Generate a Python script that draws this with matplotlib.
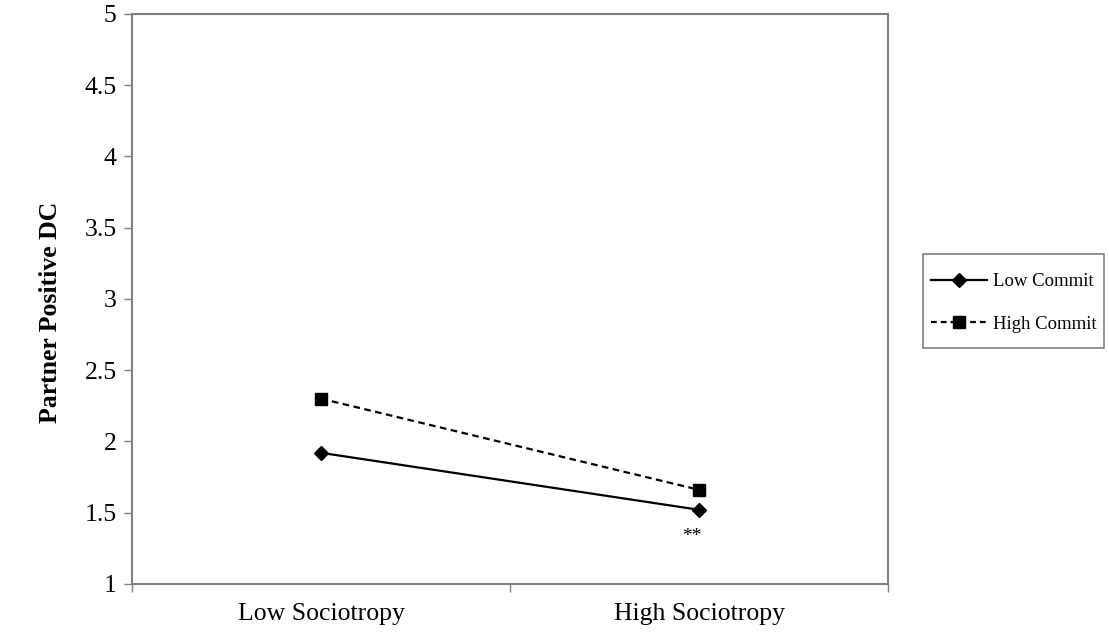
import matplotlib.pyplot as plt
from matplotlib.lines import Line2D
from matplotlib.patches import Rectangle

plt.rcParams['font.family'] = ['Liberation Serif', 'DejaVu Serif']

categories = ['Low Sociotropy', 'High Sociotropy']
low_commit = [1.92, 1.52]
high_commit = [2.30, 1.66]
series_names = ['Low Commit', 'High Commit']
y_ticks = [1, 1.5, 2, 2.5, 3, 3.5, 4, 4.5, 5]
y_tick_labels = ['1', '1.5', '2', '2.5', '3', '3.5', '4', '4.5', '5']

fig = plt.figure(figsize=(11.09, 6.34), dpi=100, facecolor='white')
ax = fig.add_axes([0.119, 0.079, 0.682, 0.899])

x = list(range(len(categories)))
ax.plot(x, low_commit, '-', color='black', linewidth=1.6, marker='D', markersize=7)
ax.plot(x, high_commit, '--', color='black', linewidth=1.6, marker='s', markersize=8.5,
        dashes=(3, 2))

ax.text(x[1] - 0.02, low_commit[1] - 0.13, '**', ha='center', va='top', fontsize=14)

ax.set_xlim(-0.5, 1.5)
ax.set_ylim(1, 5)
ax.set_yticks(y_ticks)
ax.set_yticklabels(y_tick_labels, fontsize=18.5)
ax.set_xticks([-0.5, 0.5, 1.5])
ax.set_xticklabels([])
ax.set_xticks(x, minor=True)
ax.set_xticklabels(categories, minor=True, fontsize=18.5)
ax.tick_params(axis='x', which='minor', length=0, pad=14)
ax.tick_params(axis='x', which='major', length=6, color='#808080', width=1)
ax.tick_params(axis='y', length=6, color='#808080', width=1, pad=5)

for s in ax.spines.values():
    s.set_color('#808080')
    s.set_linewidth(1.5)

ax.set_ylabel('Partner Positive DC', fontsize=18.5, fontweight='bold')
ax.yaxis.set_label_coords(-0.092, 0.477)

# legend box drawn separately so it can have the roomy vertical padding of the original
fig.patches.append(Rectangle((0.8323, 0.4511), 0.1632, 0.1483, transform=fig.transFigure,
                             facecolor='white', edgecolor='#808080', linewidth=1.2))

handles = [
    Line2D([], [], color='black', linestyle='-', marker='D', markersize=7, linewidth=1.6),
    Line2D([], [], color='black', linestyle='--', marker='s', markersize=8, linewidth=1.6,
           dashes=(2.6, 1.8)),
]
leg = fig.legend(handles, series_names, loc='center left',
                 bbox_to_anchor=(0.8395, 0.522), fontsize=13.5, frameon=False,
                 handlelength=3.0, labelspacing=1.35, borderpad=0, borderaxespad=0,
                 handletextpad=0.32)

plt.savefig('out.png', dpi=100, facecolor='white')
